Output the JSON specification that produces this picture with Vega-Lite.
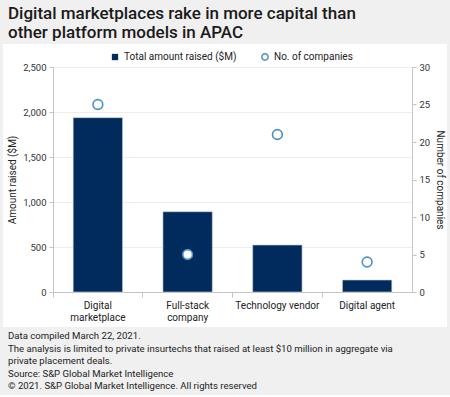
{
  "$schema": "https://vega.github.io/schema/vega-lite/v6.json",
  "background": "#f0f0f0",
  "padding": {"left": 3, "right": 3, "top": 5, "bottom": 4},
  "config": {
    "font": "Roboto",
    "view": {"fill": "white", "stroke": null},
    "concat": {"spacing": 0}
  },
  "title": {
    "text": [
      "Data compiled March 22, 2021.",
      "The analysis is limited to private insurtechs that raised at least $10 million in aggregate via",
      "private placement deals.",
      "Source: S&P Global Market Intelligence",
      "© 2021. S&P Global Market Intelligence. All rights reserved"
    ],
    "orient": "bottom",
    "anchor": "start",
    "fontSize": 9.6,
    "fontWeight": "normal",
    "color": "#222222",
    "lineHeight": 12.5,
    "offset": 4,
    "dx": 5
  },
  "vconcat": [
    {
      "width": 444,
      "height": 283,
      "title": {
        "text": ["Digital marketplaces rake in more capital than", "other platform models in APAC"],
        "anchor": "start",
        "fontSize": 17,
        "fontWeight": 500,
        "color": "#1a1a1a",
        "lineHeight": 19,
        "offset": 2,
        "dx": 5
      },
      "data": {
        "values": [
          {"type": "Digital marketplace", "amount": 1937, "count": 25},
          {"type": "Full-stack company", "amount": 892, "count": 5},
          {"type": "Technology vendor", "amount": 522, "count": 21},
          {"type": "Digital agent", "amount": 133, "count": 4}
        ]
      },
      "encoding": {
        "x": {
          "field": "type",
          "type": "nominal",
          "sort": null,
          "scale": {"range": [50, 409], "paddingInner": 0, "paddingOuter": 0},
          "axis": {
            "title": null,
            "offset": -35,
            "labelAngle": 0,
            "bandPosition": 0,
            "tickSize": 5,
            "domainColor": "#c4c4c4",
            "tickColor": "#c4c4c4",
            "labelColor": "#222222",
            "labelFontSize": 10,
            "labelPadding": 3,
            "labelLineHeight": 12,
            "labelBaseline": "top",
            "grid": false,
            "labelExpr": "datum.value == 'Digital marketplace' ? ['Digital', 'marketplace'] : datum.value == 'Full-stack company' ? ['Full-stack', 'company'] : datum.value"
          }
        }
      },
      "layer": [
        {
          "mark": {"type": "bar", "width": {"band": 0.55}, "stroke": "#c9ced6", "strokeWidth": 0.6},
          "encoding": {
            "y": {
              "field": "amount",
              "type": "quantitative",
              "scale": {"domain": [0, 2500], "range": [248, 23], "nice": false},
              "axis": {
                "title": "Amount raised ($M)",
                "offset": -50,
                "values": [0, 500, 1000, 1500, 2000, 2500],
                "format": ",.0f",
                "grid": true,
                "gridColor": "#ededed",
                "domainColor": "#c4c4c4",
                "tickColor": "#c4c4c4",
                "tickSize": 4,
                "labelColor": "#333333",
                "labelFontSize": 9.5,
                "labelPadding": 3,
                "titleColor": "#222222",
                "titleFontSize": 10,
                "titleFontWeight": "normal",
                "titlePadding": 5
              }
            },
            "fill": {
              "datum": "Total amount raised ($M)",
              "type": "nominal",
              "scale": {"range": ["#002b5c"]},
              "legend": {
                "orient": "none",
                "legendX": 107,
                "legendY": 8,
                "title": null,
                "symbolType": "square",
                "symbolSize": 40,
                "symbolStrokeWidth": 0,
                "labelFontSize": 10,
                "labelColor": "#222222",
                "labelOffset": 4
              }
            }
          }
        },
        {
          "mark": {"type": "point", "filled": true, "fill": "white", "strokeWidth": 1.6, "size": 95, "shape": "circle", "opacity": 1},
          "encoding": {
            "y": {
              "field": "count",
              "type": "quantitative",
              "scale": {"domain": [0, 30], "range": [248, 23], "nice": false},
              "axis": {
                "orient": "right",
                "title": "Number of companies",
                "offset": -35,
                "values": [0, 5, 10, 15, 20, 25, 30],
                "grid": false,
                "domainColor": "#c4c4c4",
                "tickColor": "#c4c4c4",
                "tickSize": 4,
                "labelColor": "#333333",
                "labelFontSize": 9.5,
                "labelPadding": 3,
                "titleColor": "#222222",
                "titleFontSize": 10,
                "titleFontWeight": "normal",
                "titlePadding": 5
              }
            },
            "stroke": {
              "datum": "No. of companies",
              "type": "nominal",
              "scale": {"range": ["#4a90c6"]},
              "legend": {
                "orient": "none",
                "legendX": 257,
                "legendY": 8,
                "title": null,
                "symbolType": "circle",
                "symbolSize": 40,
                "symbolStrokeWidth": 1.5,
                "symbolFillColor": "white",
                "labelFontSize": 10,
                "labelColor": "#222222",
                "labelOffset": 4
              }
            }
          }
        }
      ],
      "resolve": {"scale": {"y": "independent"}}
    }
  ]
}
